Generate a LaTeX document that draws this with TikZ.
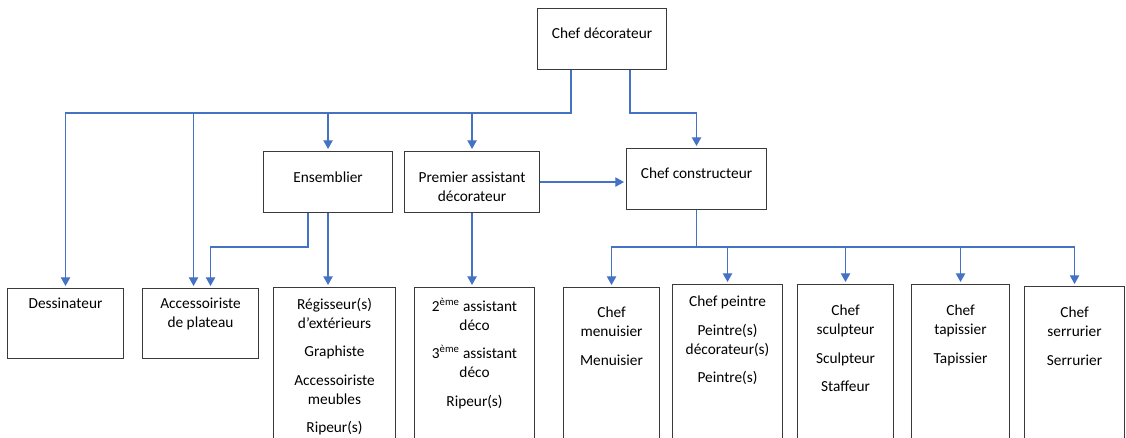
\documentclass[tikz,border=0pt]{standalone}
\usepackage{fontspec}
\setmainfont{Carlito}
\usetikzlibrary{arrows.meta,calc}
\definecolor{connblue}{HTML}{4472C4}
\definecolor{boxline}{HTML}{3A3A3A}
\begin{document}
\begin{tikzpicture}[x=0.75pt,y=-0.75pt,
  box/.style={draw=boxline,line width=0.8pt,fill=white,rectangle,anchor=north west,inner sep=0pt},
  txt/.style={inner sep=0pt,align=center,anchor=north,font=\fontsize{11.5}{14.25}\selectfont},
  conn/.style={draw=connblue,line width=0.9pt},
  arr/.style={conn,-{Triangle[width=7pt,length=6.5pt]},shorten >=1.5pt}]
\useasboundingbox (0,0) rectangle (1126,437);
\clip (0,0) rectangle (1126,437);
\newcommand\bx[5]{\node[box,minimum width=#4*0.75pt,minimum height=#5*0.75pt] (#1) at (#2,#3) {};}
% boxes
\bx{cd}{537}{8}{129}{61}
\bx{ens}{263}{151}{129}{61}
\bx{pre}{404}{151}{135}{61}
\bx{cc}{626}{148}{140}{61}
\bx{des}{7}{288}{116}{70}
\bx{acc}{142}{288}{116}{70}
\bx{reg}{273}{287}{122}{180}
\bx{ass}{414}{287}{120}{180}
\bx{men}{563}{287}{96}{180}
\bx{pei}{672}{284}{110}{180}
\bx{scu}{797}{284}{96}{180}
\bx{tap}{911}{284}{98}{180}
\bx{ser}{1024}{286}{100}{180}
% texts
\node[txt] (cd-t) at ($(cd.north)+(0,20)$) {Chef décorateur};
\node[txt] (ens-t) at ($(ens.north)+(0,21)$) {Ensemblier};
\node[txt] (pre-t) at ($(pre.north)+(0,21)$) {Premier assistant\\décorateur};
\node[txt] (cc-t) at ($(cc.north)+(0,20)$) {Chef constructeur};
\node[txt] (des-t) at ($(des.north)+(0,10)$) {Dessinateur};
\node[txt] (acc-t) at ($(acc.north)+(0,10)$) {Accessoiriste\\de plateau};
\node[txt] (reg-t) at ($(reg.north)+(0,11)$) {Régisseur(s)\\d’extérieurs\\[7pt]Graphiste\\[7pt]Accessoiriste\\meubles\\[7pt]Ripeur(s)};
\node[txt] (ass-t) at ($(ass.north)+(0,11)$) {2\textsuperscript{ème} assistant\\déco\\[7pt]3\textsuperscript{ème} assistant\\déco\\[7pt]Ripeur(s)};
\node[txt] (men-t) at ($(men.north)+(0,20)$) {Chef\\menuisier\\[7pt]Menuisier};
\node[txt] (pei-t) at ($(pei.north)+(0,12)$) {Chef peintre\\[7pt]Peintre(s)\\décorateur(s)\\[7pt]Peintre(s)};
\node[txt] (scu-t) at ($(scu.north)+(0,21)$) {Chef\\sculpteur\\[7pt]Sculpteur\\[7pt]Staffeur};
\node[txt] (tap-t) at ($(tap.north)+(0,21)$) {Chef\\tapissier\\[7pt]Tapissier};
\node[txt] (ser-t) at ($(ser.north)+(0,21)$) {Chef\\serrurier\\[7pt]Serrurier};
% helper coordinates
\coordinate (bus) at (0,113);
\coordinate (bus2) at (0,247);
\coordinate (cdL) at ($(cd.south west)+(34,0)$);
\coordinate (cdR) at ($(cd.south west)+(93,0)$);
\coordinate (accL) at ($(acc.north)+(-7,0)$);
\coordinate (accR) at ($(acc.north)+(10,0)$);
\coordinate (ensL) at ($(ens.south)+(-20,0)$);
% connectors
\draw[arr] (cdL) |- (bus -| des.north) -- (des.north);
\draw[arr] (accL |- bus) -- (accL);
\draw[arr] (ens.north |- bus) -- (ens.north);
\draw[arr] (pre.north |- bus) -- (pre.north);
\draw[arr] (cdR) |- (bus -| cc.north) -- (cc.north);
\draw[arr] (pre.east) -- (pre.east -| cc.west);
\draw[arr] (ensL) |- (bus2 -| accR) -- (accR);
\draw[arr] (ens.south) -- (ens.south |- reg.north);
\draw[arr] (pre.south) -- (pre.south |- ass.north);
\draw[arr] (cc.south) |- (bus2 -| men.north) -- (men.north);
\draw[arr] (cc.south) |- (bus2 -| ser.north) -- (ser.north);
\draw[arr] (pei.north |- bus2) -- (pei.north);
\draw[arr] (scu.north |- bus2) -- (scu.north);
\draw[arr] (tap.north |- bus2) -- (tap.north);
\end{tikzpicture}
\end{document}
